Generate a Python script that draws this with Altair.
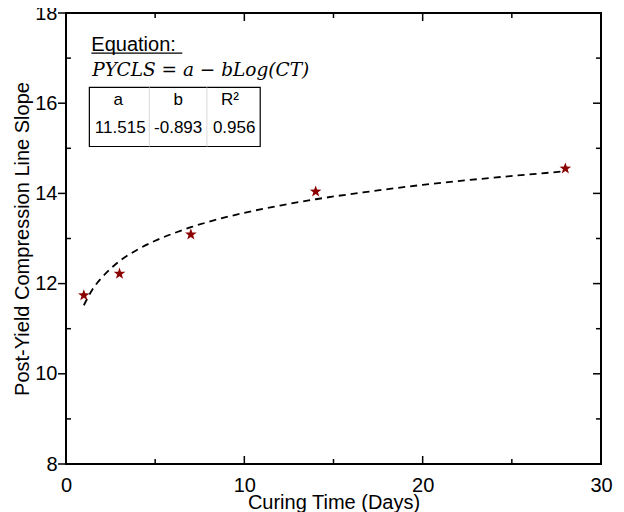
import altair as alt
import pandas as pd

# measured data
days = [1, 3, 7, 14, 28]
slope = [11.74, 12.22, 13.09, 14.04, 14.55]

# fitted curve
fit_days = [1, 1.25, 1.5, 2, 2.5, 3, 4, 5, 6, 7, 8, 10, 12, 14, 17, 20, 24, 28]
fit_slope = [11.52, 11.71, 11.88, 12.13, 12.33, 12.50, 12.75, 12.95, 13.11,
             13.25, 13.37, 13.57, 13.73, 13.87, 14.04, 14.19, 14.35, 14.49]

x_major = [0, 10, 20, 30]
x_minor = [5, 15, 25]
y_major = [8, 10, 12, 14, 16, 18]
y_minor = [9, 11, 13, 15, 17]

# annotation (equation + coefficient table), in data units
eq_title = ["Equation:"]
eq_title_pos = [(1.42, 17.16)]
eq_line = ["PYCLS = a \u2212 bLog(CT)"]
eq_line_pos = [(1.47, 16.61)]
underline = [(1.42, 6.52, 17.11)]
table_box = [(1.31, 10.89, 16.35, 15.04)]
table_seps = [4.67, 7.90]
table_cells = ["a", "b", "R\u00b2", "11.515", "-0.893", "0.956"]
table_cell_pos = [(2.93, 15.97), (6.29, 15.97), (9.20, 15.97),
                  (3.04, 15.35), (6.29, 15.35), (9.43, 15.35)]

STAR = ("M0,-1L0.235,-0.324L0.951,-0.309L0.380,0.124L0.588,0.809L0,0.4"
        "L-0.588,0.809L-0.380,0.124L-0.951,-0.309L-0.235,-0.324Z")

W, H = 535, 451
FONT = "Liberation Sans"
xs = alt.Scale(domain=[0, 30], nice=False, zero=False)
ys = alt.Scale(domain=[8, 18], nice=False, zero=False)

pts = pd.DataFrame({"d": days, "s": slope})
fit = pd.DataFrame({"d": fit_days, "s": fit_slope})

x_axis = alt.Axis(orient="bottom", values=x_major, title="Curing Time (Days)", domain=False,
                  ticks=False, tickSize=0, grid=False, labelFontSize=20, labelFont=FONT,
                  labelPadding=11, titleFontSize=20, titleFont=FONT,
                  titleFontWeight="normal", titlePadding=-3, labelColor="black",
                  titleColor="black", labelFlush=False, format="d")
y_axis = alt.Axis(orient="left", values=y_major, title="Post-Yield Compression Line Slope",
                  domain=False, ticks=False, tickSize=0, grid=False, labelFontSize=20,
                  labelFont=FONT, labelPadding=9, titleFontSize=20, titleFont=FONT,
                  titleFontWeight="normal", titlePadding=2, labelColor="black",
                  titleColor="black", labelFlush=False, format="d")


def X(field):
    return alt.X(field, scale=xs, axis=x_axis)


def Y(field):
    return alt.Y(field, scale=ys, axis=y_axis)


fit_line = alt.Chart(fit).mark_line(color="black", strokeWidth=1.8,
                                     strokeDash=[7, 5], interpolate="monotone").encode(
    x=X("d:Q"), y=Y("s:Q"))

stars = alt.Chart(pts).mark_point(shape=STAR, filled=True, color="#8B0000",
                                  size=150, opacity=1).encode(x=X("d:Q"), y=Y("s:Q"))


def xticks(vals, y0, y1):
    return alt.Chart(pd.DataFrame({"d": vals})).mark_rule(color="black", strokeWidth=1.5).encode(
        x=X("d:Q"), y=alt.value(y0), y2=alt.value(y1))


def yticks(vals, x0, x1):
    return alt.Chart(pd.DataFrame({"s": vals})).mark_rule(color="black", strokeWidth=1.5).encode(
        y=Y("s:Q"), x=alt.value(x0), x2=alt.value(x1))


ticks = [
    xticks(x_major, H, H - 8), xticks(x_minor, H, H - 5),
    xticks(x_major, 0, 8), xticks(x_minor, 0, 5),
    yticks(y_major, -8, 0), yticks(y_minor, 0, 5),
    yticks(y_major, W - 8, W), yticks(y_minor, W - 5, W),
]

t1 = pd.DataFrame({"d": [p[0] for p in eq_title_pos], "s": [p[1] for p in eq_title_pos], "t": eq_title})
title_txt = alt.Chart(t1).mark_text(align="left", baseline="alphabetic", font=FONT,
                                    fontSize=20, color="black").encode(
    x=X("d:Q"), y=Y("s:Q"), text="t:N")

ul = pd.DataFrame({"d": [u[0] for u in underline], "d2": [u[1] for u in underline],
                   "s": [u[2] for u in underline]})
ul_rule = alt.Chart(ul).mark_rule(color="black", strokeWidth=1.3).encode(
    x=X("d:Q"), x2="d2:Q", y=Y("s:Q"))

t2 = pd.DataFrame({"d": [p[0] for p in eq_line_pos], "s": [p[1] for p in eq_line_pos], "t": eq_line})
eq_txt = alt.Chart(t2).mark_text(align="left", baseline="alphabetic", font="DejaVu Serif",
                                 fontStyle="italic", fontSize=18.5, color="black").encode(
    x=X("d:Q"), y=Y("s:Q"), text="t:N")

bx = pd.DataFrame({"d": [b[0] for b in table_box], "d2": [b[1] for b in table_box],
                   "s": [b[2] for b in table_box], "s2": [b[3] for b in table_box]})
box = alt.Chart(bx).mark_rect(fillOpacity=0, stroke="black", strokeWidth=1.2).encode(
    x=X("d:Q"), x2="d2:Q", y=Y("s:Q"), y2="s2:Q")

sp = pd.DataFrame({"d": table_seps, "s": [table_box[0][2]] * 2, "s2": [table_box[0][3]] * 2})
seps = alt.Chart(sp).mark_rule(color="#d8d8d8", strokeWidth=1).encode(
    x=X("d:Q"), y=Y("s:Q"), y2="s2:Q")

cells = pd.DataFrame({"d": [p[0] for p in table_cell_pos], "s": [p[1] for p in table_cell_pos],
                      "t": table_cells})
cell_txt = alt.Chart(cells).mark_text(align="center", baseline="alphabetic", font=FONT,
                                      fontSize=17, color="black").encode(
    x=X("d:Q"), y=Y("s:Q"), text="t:N")

chart = alt.layer(fit_line, *ticks, box, seps, title_txt, ul_rule, eq_txt, cell_txt, stars).properties(
    width=W, height=H,
    autosize=alt.AutoSizeParams(type="none"),
    padding={"left": 58, "top": 5, "right": 15, "bottom": 48},
    background="white",
).configure_view(stroke="black", strokeWidth=2)

chart.save("out.html", embed_options={"renderer": "svg", "actions": False})
